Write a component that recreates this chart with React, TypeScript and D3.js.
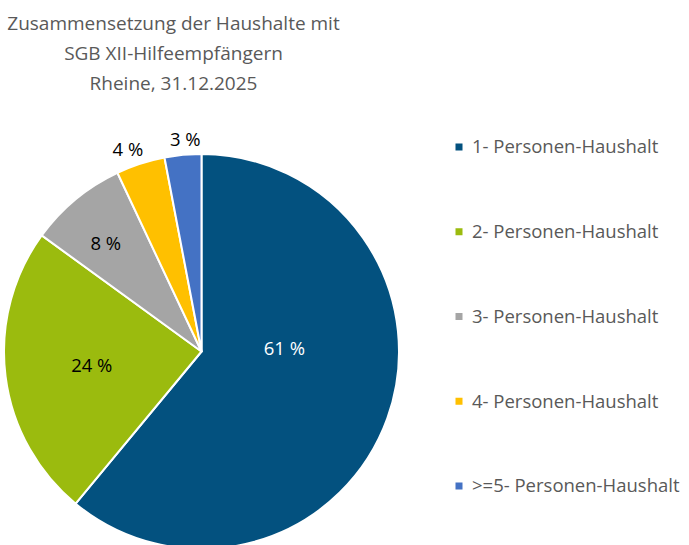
import React from "react";
import * as d3 from "d3";

const categories = [
  "1- Personen-Haushalt",
  "2- Personen-Haushalt",
  "3- Personen-Haushalt",
  "4- Personen-Haushalt",
  ">=5- Personen-Haushalt",
];
const values = [61, 24, 8, 4, 3];
const colors = ["#03517f", "#9bbb0e", "#a5a5a5", "#ffc000", "#4472c4"];
const titleLines = [
  "Zusammensetzung der Haushalte mit",
  "SGB XII-Hilfeempfängern",
  "Rheine, 31.12.2025",
];

// label placement (radius factor, angle offset in degrees from slice mid) – layout only
const labelLayout = [
  { r: 0.42, dAngle: -22 },
  { r: 0.56, dAngle: 0 },
  { r: 0.73, dAngle: -2 },
  { r: 1.09, dAngle: -2 },
  { r: 1.075, dAngle: 1 },
];

const W = 689;
const H = 545;
const cx = 201.5;
const cy = 351.5;
const R = 197.5;
const FONT = "'Open Sans', sans-serif";

export default function App() {
  const pie = d3.pie<number>().value((d) => d).sort(null);
  const arcs = pie(values);
  const arcGen = d3.arc<d3.PieArcDatum<number>>().innerRadius(0).outerRadius(R);
  const total = d3.sum(values);
  const legendY = d3.scalePoint<number>().domain(d3.range(categories.length)).range([147, 486]);

  return (
    <svg width={W} height={H} style={{ position: "absolute", left: 0, top: 0, background: "#fff" }}>
      <g fontFamily={FONT} fill="#595959">
        {titleLines.map((t, i) => (
          <text key={i} x={173.5} y={29.5 + i * 30} textAnchor="middle" fontSize={19}>
            {t}
          </text>
        ))}
      </g>
      <g transform={`translate(${cx},${cy})`}>
        {arcs.map((a, i) => (
          <path key={i} d={arcGen(a) || ""} fill={colors[i]} stroke="#fff" strokeWidth={2} strokeLinejoin="round" />
        ))}
        {arcs.map((a, i) => {
          const mid = (a.startAngle + a.endAngle) / 2 + (labelLayout[i].dAngle * Math.PI) / 180;
          const rr = R * labelLayout[i].r;
          const x = Math.sin(mid) * rr;
          const y = -Math.cos(mid) * rr;
          return (
            <text
              key={i}
              x={x}
              y={y}
              dy="0.35em"
              textAnchor="middle"
              fontFamily={FONT}
              fontSize={18.5}
              fill={i === 0 ? "#ffffff" : "#000000"}
            >
              {`${Math.round((values[i] / total) * 100)} %`}
            </text>
          );
        })}
      </g>
      <g fontFamily={FONT}>
        {categories.map((c, i) => (
          <g key={i} transform={`translate(0,${legendY(i)})`}>
            <rect x={455.5} y={-3.5} width={7} height={7} fill={colors[i]} />
            <text x={472} y={0} dy="0.35em" fontSize={18.5} fill="#595959">
              {c}
            </text>
          </g>
        ))}
      </g>
    </svg>
  );
}
